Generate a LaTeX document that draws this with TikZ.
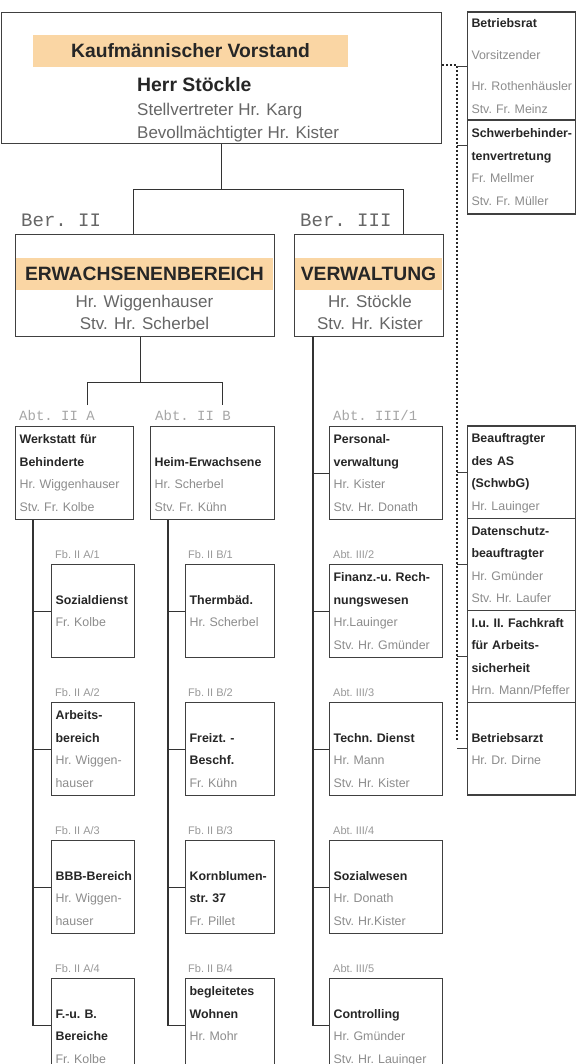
\documentclass[tikz,border=0pt]{standalone}
\usepackage{fontspec}
\setmainfont{Liberation Sans}
\setmonofont{Liberation Mono}
\usetikzlibrary{positioning}
\definecolor{bandorange}{RGB}{250,214,164}
\newcommand{\boxfont}{\fontsize{12.4}{22.5}\selectfont\frenchspacing}
\newcommand{\ttl}[1]{\mbox{\textcolor{black!85}{\bfseries #1}}\strut}
\newcommand{\prs}[1]{\mbox{#1}\strut}

\begin{document}
\begin{tikzpicture}[
        x=1pt, y=-1pt,
        mainbox/.style = {draw=black!75, line width=1.3pt, anchor=north west, inner sep=0pt},
        band/.style = {fill=bandorange, inner sep=0pt, text=black!85, font=\fontsize{19.3}{23}\selectfont\bfseries},
        unitbox/.style = {draw=black!75, line width=1.2pt, anchor=north west, inner xsep=4pt, inner ysep=0pt, align=left, text=black!45, font=\boxfont},
        colA/.style = {unitbox, text width=75pt, minimum width=83pt, minimum height=93pt},
        colB/.style = {unitbox, text width=81pt, minimum width=89pt, minimum height=93pt},
        colP/.style = {unitbox, text width=105pt, minimum width=113pt, minimum height=93pt},
        rbox/.style = {unitbox, outer sep=0pt, text width=100pt, minimum width=108pt},
        berlabel/.style = {anchor=base west, inner sep=0pt, text=black!60, font=\ttfamily\fontsize{19}{22}\selectfont},
        abtlabel/.style = {anchor=base west, inner sep=0pt, text=black!35, font=\ttfamily\fontsize{14}{16}\selectfont},
        fblabel/.style = {anchor=base west, inner sep=0pt, text=black!40, font=\fontsize{11}{13}\selectfont\frenchspacing},
        conn/.style = {draw=black!80, line width=1.2pt},
        dotline/.style = {draw=black!85, line width=2.2pt, dash pattern=on 2pt off 2pt},
        tick/.style = {draw=black!75, line width=0.9pt}
    ]
\fill[white] (0,0) rectangle (576,1064);
\useasboundingbox (0,0) rectangle (576,1064);

% Vorstand
\node[mainbox, minimum width=440pt, minimum height=131pt] (vorstand) at (0.7,12) {};
\node[band, minimum width=315pt, minimum height=32pt] (kvband) at (190.5,51) {Kaufmännischer Vorstand};
\node[anchor=west, align=left, inner sep=0pt, text=black!60, font=\fontsize{17}{23.5}\selectfont] (vorstandtext) at (137,110)
    {\textcolor{black!85}{\fontsize{19.4}{23.5}\selectfont\bfseries Herr Stöckle}\\Stellvertreter Hr. Karg\\Bevollmächtigter Hr. Kister};

% Bereiche
\node[mainbox, minimum width=259pt, minimum height=102pt] (erw) at (15,234) {};
\node[band, minimum width=257.7pt, minimum height=32pt] (erwband) at (144.5,274) {ERWACHSENENBEREICH};
\node[align=center, inner sep=0pt, text=black!60, font=\fontsize{17}{21.5}\selectfont] (erwtext) at (144.5,312.5) {Hr. Wiggenhauser\\Stv. Hr. Scherbel};
\node[berlabel] (ber2) at ([xshift=6pt,yshift=7pt]erw.north west) {Ber. II};

\node[mainbox, minimum width=149pt, minimum height=102pt] (verw) at (294,234) {};
\node[band, minimum width=147.7pt, minimum height=32pt] (verwband) at (368.5,274) {VERWALTUNG};
\node[align=center, inner sep=0pt, text=black!60, font=\fontsize{17}{21.5}\selectfont] (verwtext) at (370,312.5) {Hr. Stöckle\\Stv. Hr. Kister};
\node[berlabel] (ber3) at ([xshift=6pt,yshift=7pt]verw.north west) {Ber. III};

% Abteilung II A
\node[unitbox, text width=110pt, minimum width=118pt, minimum height=93pt] (wfb) at (15,426)
    {\ttl{Werkstatt für}\\\ttl{Behinderte}\\\prs{Hr. Wiggenhauser}\\\prs{Stv. Fr. Kolbe}};
\node[abtlabel] (abtA) at ([xshift=4pt,yshift=6pt]wfb.north west) {Abt. II A};
\node[colA] (a1) at (51,564) {\strut\\\ttl{Sozialdienst}\\\prs{Fr. Kolbe}\\\strut};
\node[colA, below=43.8pt of a1] (a2) {\ttl{Arbeits-}\\\ttl{bereich}\\\prs{Hr. Wiggen-}\\\prs{hauser}};
\node[colA, below=43.8pt of a2] (a3) {\strut\\\ttl{BBB-Bereich}\\\prs{Hr. Wiggen-}\\\prs{hauser}};
\node[colA, below=43.8pt of a3] (a4) {\strut\\\ttl{F.-u. B.}\\\ttl{Bereiche}\\\prs{Fr. Kolbe}};
\node[fblabel] (fa1) at ([xshift=4pt,yshift=6pt]a1.north west) {Fb. II A/1};
\node[fblabel] (fa2) at ([xshift=4pt,yshift=6pt]a2.north west) {Fb. II A/2};
\node[fblabel] (fa3) at ([xshift=4pt,yshift=6pt]a3.north west) {Fb. II A/3};
\node[fblabel] (fa4) at ([xshift=4pt,yshift=6pt]a4.north west) {Fb. II A/4};

% Abteilung II B
\node[unitbox, text width=116pt, minimum width=124pt, minimum height=93pt] (heb) at (150,426)
    {\strut\\\ttl{Heim-Erwachsene}\\\prs{Hr. Scherbel}\\\prs{Stv. Fr. Kühn}};
\node[abtlabel] (abtB) at ([xshift=5pt,yshift=6pt]heb.north west) {Abt. II B};
\node[colB] (b1) at (185,564) {\strut\\\ttl{Thermbäd.}\\\prs{Hr. Scherbel}\\\strut};
\node[colB, below=43.8pt of b1] (b2) {\strut\\\ttl{Freizt. -}\\\ttl{Beschf.}\\\prs{Fr. Kühn}};
\node[colB, below=43.8pt of b2] (b3) {\strut\\\ttl{Kornblumen-}\\\ttl{str. 37}\\\prs{Fr. Pillet}};
\node[colB, below=43.8pt of b3] (b4) {\ttl{begleitetes}\\\ttl{Wohnen}\\\prs{Hr. Mohr}\\\strut};
\node[fblabel] (fb1) at ([xshift=3pt,yshift=6pt]b1.north west) {Fb. II B/1};
\node[fblabel] (fb2) at ([xshift=3pt,yshift=6pt]b2.north west) {Fb. II B/2};
\node[fblabel] (fb3) at ([xshift=3pt,yshift=6pt]b3.north west) {Fb. II B/3};
\node[fblabel] (fb4) at ([xshift=3pt,yshift=6pt]b4.north west) {Fb. II B/4};

% Abteilungen III
\node[colP] (p1) at (329,426) {\ttl{Personal-}\\\ttl{verwaltung}\\\prs{Hr. Kister}\\\prs{Stv. Hr. Donath}};
\node[colP, below=43.8pt of p1] (p2) {\ttl{Finanz.-u. Rech-}\\\ttl{nungswesen}\\\prs{Hr.Lauinger}\\\prs{Stv. Hr. Gmünder}};
\node[colP, below=43.8pt of p2] (p3) {\strut\\\ttl{Techn. Dienst}\\\prs{Hr. Mann}\\\prs{Stv. Hr. Kister}};
\node[colP, below=43.8pt of p3] (p4) {\strut\\\ttl{Sozialwesen}\\\prs{Hr. Donath}\\\prs{Stv. Hr.Kister}};
\node[colP, below=43.8pt of p4] (p5) {\strut\\\ttl{Controlling}\\\prs{Hr. Gmünder}\\\prs{Stv. Hr. Lauinger}};
\node[abtlabel] (abtP1) at ([xshift=4pt,yshift=6pt]p1.north west) {Abt. III/1};
\node[fblabel] (fp2) at ([xshift=4pt,yshift=6pt]p2.north west) {Abt. III/2};
\node[fblabel] (fp3) at ([xshift=4pt,yshift=6pt]p3.north west) {Abt. III/3};
\node[fblabel] (fp4) at ([xshift=4pt,yshift=6pt]p4.north west) {Abt. III/4};
\node[fblabel] (fp5) at ([xshift=4pt,yshift=6pt]p5.north west) {Abt. III/5};

% Stabsstellen rechts
\node[rbox, minimum height=106pt] (br) at (467.5,12)
    {\ttl{Betriebsrat}\\[9pt]\prs{Vorsitzender}\\[9pt]\prs{Hr. Rothenhäusler}\\\prs{Stv. Fr. Meinz}};
\node[rbox, minimum height=94pt, below=0pt of br] (sbv)
    {\ttl{Schwerbehinder-}\\\ttl{tenvertretung}\\\prs{Fr. Mellmer}\\\prs{Stv. Fr. Müller}};
\node[rbox, minimum height=92.25pt] (bas) at (467.5,426)
    {\ttl{Beauftragter}\\\ttl{des AS}\\\ttl{(SchwbG)}\\\prs{Hr. Lauinger}};
\node[rbox, minimum height=92.25pt, below=0pt of bas] (dsb)
    {\ttl{Datenschutz-}\\\ttl{beauftragter}\\\prs{Hr. Gmünder}\\\prs{Stv. Hr. Laufer}};
\node[rbox, minimum height=92.25pt, below=0pt of dsb] (fas)
    {\ttl{I.u. II. Fachkraft}\\\ttl{für Arbeits-}\\\ttl{sicherheit}\\\prs{Hrn. Mann/Pfeffer}};
\node[rbox, minimum height=92.25pt, below=0pt of fas] (bea)
    {\strut\\\ttl{Betriebsarzt}\\\prs{Hr. Dr. Dirne}\\\strut};

% Verbindungen
\draw[conn] (vorstand.south) -- ++(0,45) coordinate (fork1);
\draw[conn] ([xshift=-11.5pt]erw.north) |- (fork1) -| ([xshift=34pt]verw.north);
\draw[conn] ([xshift=-4.5pt]erw.south) -- ++(0,45) coordinate (fork2);
\draw[conn] ([xshift=13pt,yshift=21pt]wfb.north) |- (fork2) -| ([xshift=10pt,yshift=21pt]heb.north);

\coordinate (spineA) at (33,0);
\draw[conn] (wfb.south -| spineA) |- (a4.west);
\draw[conn] (a1.west) -- (a1.west -| spineA);
\draw[conn] (a2.west) -- (a2.west -| spineA);
\draw[conn] (a3.west) -- (a3.west -| spineA);

\coordinate (spineB) at (168,0);
\draw[conn] (heb.south -| spineB) |- (b4.west);
\draw[conn] (b1.west) -- (b1.west -| spineB);
\draw[conn] (b2.west) -- (b2.west -| spineB);
\draw[conn] (b3.west) -- (b3.west -| spineB);

\coordinate (spineP) at (313,0);
\draw[conn] (verw.south -| spineP) |- (p5.west);
\draw[conn] (p1.west) -- (p1.west -| spineP);
\draw[conn] (p2.west) -- (p2.west -| spineP);
\draw[conn] (p3.west) -- (p3.west -| spineP);
\draw[conn] (p4.west) -- (p4.west -| spineP);

% Stabsstellen, gepunktet
\coordinate (dtop) at (457,65);
\draw[dotline] (vorstand.east |- dtop) -- (dtop) -- ([yshift=8pt]dtop |- bea.west);
\draw[tick] (br.west) -- (br.west -| dtop);
\draw[tick] ([yshift=22pt]sbv.west) -- ([yshift=22pt]sbv.west -| dtop);
\draw[tick] (bas.west) -- (bas.west -| dtop);
\draw[tick] (dsb.west) -- (dsb.west -| dtop);
\draw[tick] (fas.west) -- (fas.west -| dtop);
\draw[tick] (bea.west) -- (bea.west -| dtop);
\end{tikzpicture}
\end{document}
